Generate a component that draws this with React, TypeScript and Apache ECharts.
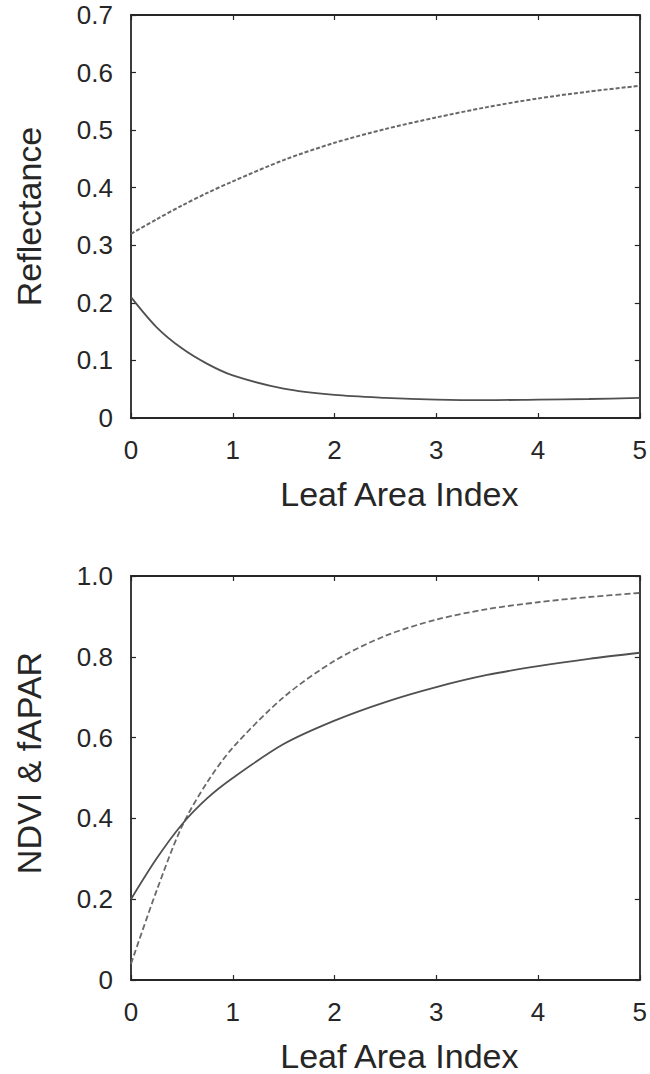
import React, { useEffect, useRef } from "react";
import * as echarts from "echarts";

// Leaf Area Index sample positions
const lai = [0, 0.25, 0.5, 0.75, 1, 1.5, 2, 2.5, 3, 3.5, 4, 4.5, 5];

// Top panel: reflectance
const reflNir = [0.32, 0.345, 0.369, 0.391, 0.411, 0.448, 0.478, 0.502, 0.522, 0.54, 0.555, 0.567, 0.577];
const reflRed = [0.21, 0.158, 0.121, 0.094, 0.074, 0.051, 0.04, 0.035, 0.032, 0.031, 0.032, 0.033, 0.035];

// Bottom panel: NDVI & fAPAR
const ndvi = [0.04, 0.22, 0.38, 0.49, 0.575, 0.7, 0.79, 0.852, 0.892, 0.918, 0.935, 0.948, 0.958];
const fapar = [0.2, 0.3, 0.385, 0.45, 0.5, 0.584, 0.642, 0.688, 0.725, 0.755, 0.777, 0.795, 0.81];

const xTicks = { min: 0, max: 5, interval: 1 };
const yTopTicks = { min: 0, max: 0.7, interval: 0.1 };
const yBottomTicks = { min: 0, max: 1.0, interval: 0.2 };

const xTitle = "Leaf Area Index";
const yTopTitle = "Reflectance";
const yBottomTitle = "NDVI & fAPAR";

const FONT = "'Liberation Sans', Arial, Helvetica, sans-serif";
const FRAME = "#262626";
const TEXT = "#262626";

const pairs = (xs: number[], ys: number[]) => xs.map((x, i) => [x, ys[i]]);

const fmt = (v: number) => (v === 0 ? "0" : v.toFixed(1));

function axisCommon(extra: any) {
  return {
    axisLine: { show: true, onZero: false, lineStyle: { color: FRAME, width: 1.8 } },
    axisTick: { show: true, inside: true, length: 5, lineStyle: { color: FRAME, width: 1.2 } },
    splitLine: { show: false },
    ...extra,
  };
}

export default function App() {
  const ref = useRef<HTMLDivElement>(null);

  useEffect(() => {
    if (!ref.current) return;
    const chart = echarts.init(ref.current, undefined, { renderer: "svg" });

    const xMain = (gridIndex: number) =>
      axisCommon({
        type: "value",
        gridIndex,
        position: "bottom",
        ...xTicks,
        name: xTitle,
        nameLocation: "middle",
        nameGap: 59,
        nameTextStyle: { fontFamily: FONT, fontSize: 34, color: TEXT, padding: [0, 0, 0, 28] },
        axisLabel: { fontFamily: FONT, fontSize: 26, color: TEXT, margin: 19, formatter: (v: number) => String(v) },
      });
    const xTop = (gridIndex: number) =>
      axisCommon({ type: "value", gridIndex, position: "top", ...xTicks, axisLabel: { show: false } });

    const yMain = (gridIndex: number, ticks: any, title: string, pad: number[]) =>
      axisCommon({
        type: "value",
        gridIndex,
        position: "left",
        ...ticks,
        name: title,
        nameLocation: "middle",
        nameGap: 85,
        nameRotate: 90,
        nameTextStyle: { fontFamily: FONT, fontSize: 34, color: TEXT, padding: pad },
        axisLabel: { fontFamily: FONT, fontSize: 26, color: TEXT, margin: 18, formatter: fmt },
      });
    const yRight = (gridIndex: number, ticks: any) =>
      axisCommon({ type: "value", gridIndex, position: "right", ...ticks, axisLabel: { show: false } });

    chart.setOption({
      animation: false,
      backgroundColor: "#ffffff",
      grid: [
        { left: 131, top: 15, width: 512, height: 403 },
        { left: 131, top: 576, width: 512, height: 405 },
      ],
      xAxis: [xMain(0), xTop(0), xMain(1), xTop(1)],
      yAxis: [
        yMain(0, yTopTicks, yTopTitle, [0, 0, 0, 0]),
        yRight(0, yTopTicks),
        yMain(1, yBottomTicks, yBottomTitle, [0, 0, 0, 30]),
        yRight(1, yBottomTicks),
      ],
      series: [
        {
          name: "NIR reflectance",
          type: "line",
          xAxisIndex: 0,
          yAxisIndex: 0,
          data: pairs(lai, reflNir),
          smooth: 0.3,
          showSymbol: false,
          lineStyle: { color: "#686868", width: 2, type: [4, 2] },
        },
        {
          name: "Red reflectance",
          type: "line",
          xAxisIndex: 0,
          yAxisIndex: 0,
          data: pairs(lai, reflRed),
          smooth: 0.3,
          showSymbol: false,
          lineStyle: { color: "#505050", width: 1.8 },
        },
        {
          name: "NDVI",
          type: "line",
          xAxisIndex: 2,
          yAxisIndex: 2,
          data: pairs(lai, ndvi),
          smooth: 0.3,
          showSymbol: false,
          lineStyle: { color: "#6a6a6a", width: 1.8, type: [6, 3] },
        },
        {
          name: "fAPAR",
          type: "line",
          xAxisIndex: 2,
          yAxisIndex: 2,
          data: pairs(lai, fapar),
          smooth: 0.3,
          showSymbol: false,
          lineStyle: { color: "#505050", width: 1.8 },
        },
      ],
    });

    return () => chart.dispose();
  }, []);

  return (
    <div
      ref={ref}
      style={{ position: "absolute", left: 0, top: 0, width: 650, height: 1074, background: "#fff" }}
    />
  );
}
